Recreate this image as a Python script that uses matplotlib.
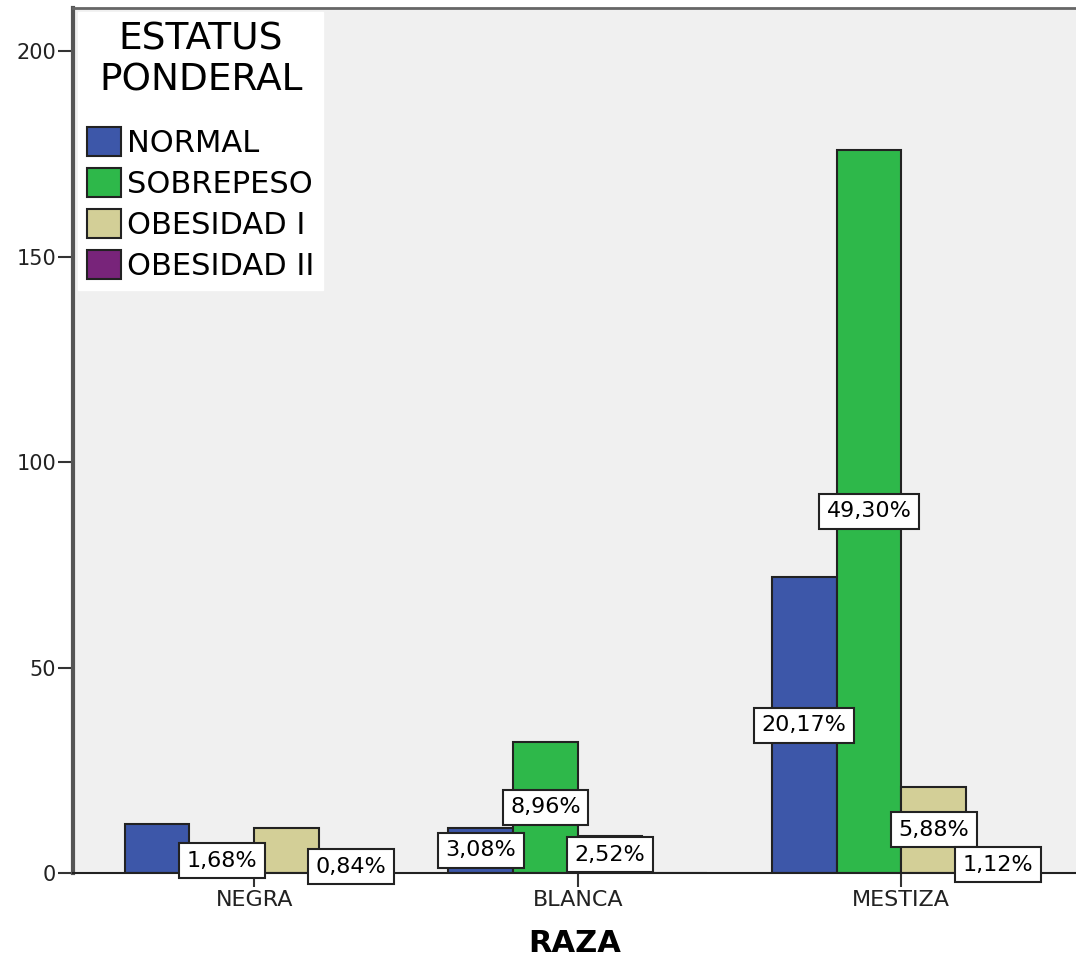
import numpy as np
import matplotlib
matplotlib.use("Agg")
import matplotlib.pyplot as plt

# counts (total 357 -> percentages on the labels)
razas = ["NEGRA", "BLANCA", "MESTIZA"]
estatus = ["NORMAL", "SOBREPESO", "OBESIDAD I", "OBESIDAD II"]
normal = [12, 11, 72]
sobrepeso = [6, 32, 176]
obesidad_1 = [11, 9, 21]
obesidad_2 = [3, 0, 4]
# which bars carry a visible percentage label (SPSS hid some)
show_normal = [False, True, True]
show_sobrepeso = [True, True, True]
show_obesidad_1 = [False, True, True]
show_obesidad_2 = [True, False, True]

colores = ["#3d57a9", "#2eb84a", "#d3cf97", "#78247a"]

series = [normal, sobrepeso, obesidad_1, obesidad_2]
shows = [show_normal, show_sobrepeso, show_obesidad_1, show_obesidad_2]
total = sum(sum(s) for s in series)

plt.rcParams['font.family'] = ['DejaVu Sans']

fig = plt.figure(figsize=(10.76, 9.59), dpi=100)
ax = fig.add_axes([73 / 1076, 86 / 959, 1 - 73 / 1076, (873 - 8) / 959])
ax.set_facecolor("#f0f0f0")

x = np.arange(len(razas))
width = 0.2
offsets = [-0.3, -0.1, 0.1, 0.3]

for vals, show, col, name, off in zip(series, shows, colores, estatus, offsets):
    ax.bar(x + off, vals, width, color=col, edgecolor="#222222", linewidth=1.5,
           label=name, zorder=2)
    for xi, v, s in zip(x, vals, show):
        if s and v > 0:
            txt = f"{100 * v / total:.2f}%".replace(".", ",")
            ax.text(xi + off, v / 2, txt, ha="center", va="center", fontsize=16,
                    zorder=5,
                    bbox=dict(boxstyle="square,pad=0.34", facecolor="white",
                              edgecolor="#222222", linewidth=1.5))

ax.set_xlim(-0.56, 2.54)
ax.set_ylim(0, 210.5)
ax.set_yticks([0, 50, 100, 150, 200])
ax.tick_params(axis="y", labelsize=15, length=11, width=1.5, color="#333333",
               labelcolor="#222222", pad=1)
ax.set_xticks(x)
ax.set_xticklabels(razas)
ax.tick_params(axis="x", labelsize=16, length=10, width=1.5, color="#333333",
               labelcolor="#222222", pad=2)
ax.set_xlabel("RAZA", fontsize=22, fontweight="bold", labelpad=14)

ax.spines["left"].set_linewidth(3)
ax.spines["left"].set_color("#555555")
ax.spines["bottom"].set_linewidth(1.5)
ax.spines["bottom"].set_color("#222222")
ax.spines["top"].set_linewidth(2)
ax.spines["top"].set_color("#666666")
ax.spines["right"].set_visible(False)

leg = ax.legend(title="ESTATUS\nPONDERAL", loc="upper left",
                bbox_to_anchor=(78 / 1076, 1 - 12 / 959),
                bbox_transform=fig.transFigure,
                fontsize=22, title_fontsize=27, frameon=True, fancybox=False,
                handlelength=1.1, handleheight=1.1, handletextpad=0.2,
                labelspacing=0.33, borderpad=0.3, borderaxespad=0)
leg.get_frame().set_facecolor("white")
leg.get_frame().set_edgecolor("white")
leg.get_frame().set_alpha(1)
leg._legend_box.align = "center"
leg._legend_box.sep = 20
leg.get_title().set_multialignment("center")

fig.savefig("out.png", dpi=100, facecolor="white")
